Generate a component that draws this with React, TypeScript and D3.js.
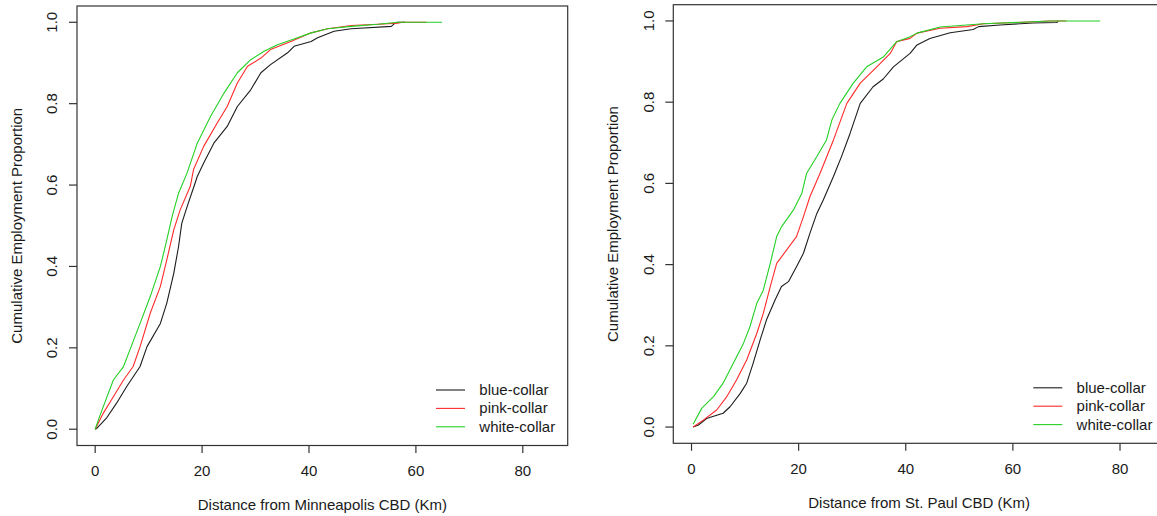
import { useEffect, useRef } from "react";
import * as d3 from "d3";

const W = 1157;
const H = 516;

const seriesNames = ["blue-collar", "pink-collar", "white-collar"];
const seriesColors = ["#1c1c1c", "#ff2a2a", "#24d024"];
const xTicks = [0, 20, 40, 60, 80];
const yTicks = [0, 0.2, 0.4, 0.6, 0.8, 1.0];

// [distance km, cumulative share]
const mplsBlue: [number, number][] = [
  [0, 0], [0.3, 0.002], [2.1, 0.027], [4.0, 0.064], [5.9, 0.105], [8.4, 0.154], [9.7, 0.203],
  [12.2, 0.26], [13.4, 0.31], [14.7, 0.383], [15.6, 0.449], [16.2, 0.506], [17.2, 0.547],
  [18.7, 0.605], [19.1, 0.621], [20.3, 0.654], [22.2, 0.703], [24.7, 0.744], [26.6, 0.793],
  [29.1, 0.834], [31.0, 0.876], [32.8, 0.896], [36.0, 0.925], [37.2, 0.941], [40.4, 0.953],
  [41.6, 0.962], [44.7, 0.978], [47.9, 0.984], [55.4, 0.99], [56.1, 0.998], [56.6, 1.0], [58, 1.0],
];
const mplsPink: [number, number][] = [
  [0, 0], [1.5, 0.039], [3.4, 0.08], [5.3, 0.121], [7.1, 0.154], [8.4, 0.203], [10.3, 0.285],
  [12.2, 0.351], [13.4, 0.416], [14.7, 0.49], [15.9, 0.539], [17.8, 0.597], [18.4, 0.638],
  [20.3, 0.695], [22.8, 0.752], [24.7, 0.793], [26.6, 0.851], [28.5, 0.892], [31.0, 0.912],
  [32.8, 0.933], [36.6, 0.953], [40.4, 0.974], [43.5, 0.984], [47.9, 0.992], [52.9, 0.995],
  [56.6, 0.998], [57.5, 1.0], [62, 1.0],
];
const mplsWhite: [number, number][] = [
  [0, 0], [0.6, 0.023], [1.5, 0.055], [3.4, 0.121], [5.3, 0.154], [6.5, 0.195], [8.4, 0.26],
  [10.3, 0.326], [12.2, 0.4], [13.4, 0.465], [14.4, 0.523], [15.6, 0.58], [17.2, 0.63],
  [19.1, 0.703], [21.6, 0.769], [24.1, 0.826], [26.6, 0.876], [29.1, 0.908], [31.6, 0.929],
  [34.1, 0.945], [37.2, 0.959], [40.4, 0.974], [43.5, 0.984], [47.9, 0.99], [52.9, 0.995],
  [56.6, 1.0], [64.9, 1.0],
];

const stpBlue: [number, number][] = [
  [0.3, 0], [1.3, 0.005], [2.8, 0.021], [5.9, 0.034], [7.2, 0.05], [9.1, 0.083], [10.3, 0.108],
  [11.5, 0.157], [12.8, 0.214], [14.0, 0.264], [15.6, 0.313], [16.8, 0.346], [18.1, 0.358],
  [19.6, 0.395], [20.9, 0.428], [22.1, 0.477], [23.4, 0.526], [24.6, 0.559], [26.5, 0.617],
  [28.0, 0.666], [29.6, 0.723], [31.5, 0.797], [33.9, 0.838], [35.8, 0.857], [37.7, 0.887],
  [38.9, 0.9], [40.8, 0.92], [42.1, 0.941], [44.5, 0.957], [48.3, 0.971], [52.6, 0.979],
  [53.6, 0.986], [57.6, 0.99], [63.8, 0.995], [68.2, 0.996], [68.5, 1.0],
];
const stpPink: [number, number][] = [
  [0.3, 0], [2.2, 0.017], [4.7, 0.042], [6.6, 0.075], [8.4, 0.116], [10.3, 0.165], [12.2, 0.231],
  [13.4, 0.28], [14.7, 0.346], [15.9, 0.403], [16.8, 0.419], [19.6, 0.469], [20.9, 0.518],
  [22.1, 0.567], [24.0, 0.625], [26.5, 0.707], [29.0, 0.797], [31.5, 0.847], [34.6, 0.887],
  [37.1, 0.92], [38.3, 0.949], [40.8, 0.957], [42.1, 0.97], [46.4, 0.982], [51.4, 0.986],
  [54.5, 0.993], [60.7, 0.996], [66.9, 1.0], [70, 1.0],
];
const stpWhite: [number, number][] = [
  [0.3, 0.007], [1.9, 0.046], [4.1, 0.075], [5.9, 0.108], [7.8, 0.157], [9.7, 0.206],
  [10.9, 0.247], [12.2, 0.305], [13.4, 0.337], [14.7, 0.403], [15.9, 0.469], [16.8, 0.493],
  [19.0, 0.534], [20.6, 0.576], [21.5, 0.625], [23.4, 0.666], [25.2, 0.707], [26.2, 0.756],
  [27.7, 0.797], [30.2, 0.847], [32.7, 0.887], [35.8, 0.911], [38.3, 0.949], [40.8, 0.961],
  [42.1, 0.97], [46.4, 0.985], [54.5, 0.993], [63.8, 0.998], [67, 1.0], [76.3, 1.0],
];

const panels = [
  {
    title: "Distance from Minneapolis CBD (Km)",
    series: [mplsBlue, mplsPink, mplsWhite],
    box: { left: 77, right: 567.7, top: 6, bottom: 445.5 },
  },
  {
    title: "Distance from St. Paul CBD (Km)",
    series: [stpBlue, stpPink, stpWhite],
    box: { left: 673.3, right: 1165, top: 4.7, bottom: 443.3 },
  },
];

const FONT = "'Liberation Sans', Arial, sans-serif";

export default function App() {
  const ref = useRef<SVGSVGElement>(null);

  useEffect(() => {
    if (!ref.current) return;
    const svg = d3.select(ref.current);
    svg.selectAll("*").remove();

    svg.append("rect").attr("width", W).attr("height", H).attr("fill", "#fff");

    panels.forEach((p) => {
      const b = p.box;
      const g = svg.append("g");
      const x = d3.scaleLinear().domain([-3.4, 88.4]).range([b.left, b.right]);
      const y = d3.scaleLinear().domain([-0.04, 1.04]).range([b.bottom, b.top]);

      const line = d3
        .line<[number, number]>()
        .x((d) => x(d[0]))
        .y((d) => y(d[1]));

      p.series.forEach((s, i) => {
        g.append("path")
          .attr("d", line(s))
          .attr("fill", "none")
          .attr("stroke", seriesColors[i])
          .attr("stroke-width", 1.1)
          .attr("stroke-linejoin", "round");
      });

      // box
      g.append("rect")
        .attr("x", b.left)
        .attr("y", b.top)
        .attr("width", b.right - b.left)
        .attr("height", b.bottom - b.top)
        .attr("fill", "none")
        .attr("stroke", "#333")
        .attr("stroke-width", 1.2);

      // x axis
      xTicks.forEach((t) => {
        g.append("line")
          .attr("x1", x(t)).attr("x2", x(t))
          .attr("y1", b.bottom).attr("y2", b.bottom + 7.5)
          .attr("stroke", "#333").attr("stroke-width", 1.2);
        g.append("text")
          .attr("x", x(t)).attr("y", b.bottom + 30.5)
          .attr("text-anchor", "middle")
          .attr("font-family", FONT).attr("font-size", 15).attr("fill", "#1a1a1a")
          .text(String(t));
      });

      // y axis, labels turned like R's las=0
      yTicks.forEach((t) => {
        g.append("line")
          .attr("x1", b.left - 8).attr("x2", b.left)
          .attr("y1", y(t)).attr("y2", y(t))
          .attr("stroke", "#333").attr("stroke-width", 1.2);
        g.append("text")
          .attr("transform", `translate(${b.left - 19.6},${y(t)}) rotate(-90)`)
          .attr("text-anchor", "middle")
          .attr("font-family", FONT).attr("font-size", 15).attr("fill", "#1a1a1a")
          .text(t.toFixed(1));
      });

      g.append("text")
        .attr("x", (b.left + b.right) / 2).attr("y", b.bottom + 64.5)
        .attr("text-anchor", "middle")
        .attr("font-family", FONT).attr("font-size", 15).attr("fill", "#1a1a1a")
        .text(p.title);

      g.append("text")
        .attr("transform", `translate(${b.left - 55},${(b.top + b.bottom) / 2}) rotate(-90)`)
        .attr("text-anchor", "middle")
        .attr("font-family", FONT).attr("font-size", 15).attr("fill", "#1a1a1a")
        .text("Cumulative Employment Proportion");

      // legend, no frame
      seriesNames.forEach((name, i) => {
        const cy = b.bottom - 55.5 + i * 18.4;
        g.append("line")
          .attr("x1", b.right - 131.7).attr("x2", b.right - 102.7)
          .attr("y1", cy).attr("y2", cy)
          .attr("stroke", seriesColors[i]).attr("stroke-width", 1.1);
        g.append("text")
          .attr("x", b.right - 88.4).attr("y", cy + 5)
          .attr("font-family", FONT).attr("font-size", 15).attr("fill", "#1a1a1a")
          .text(name);
      });
    });
  }, []);

  return (
    <svg
      ref={ref}
      width={W}
      height={H}
      style={{ position: "absolute", left: 0, top: 0, display: "block" }}
    />
  );
}
